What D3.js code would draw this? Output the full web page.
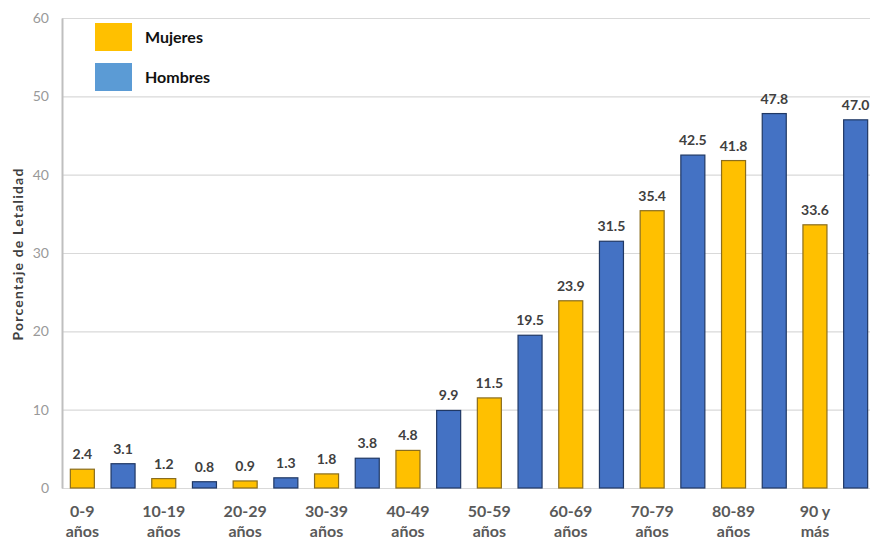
<!DOCTYPE html>
<meta charset="utf-8">
<script src="https://d3js.org/d3.v7.min.js"></script>
<style>
  body { margin: 0; background: #fff; overflow: hidden; }
  text { font-family: Lato, "Open Sans", sans-serif; }
</style>
<div id="my_dataviz"></div>
<script>

  // data
  var groups = ["0-9|años", "10-19|años", "20-29|años", "30-39|años", "40-49|años",
                "50-59|años", "60-69|años", "70-79|años", "80-89|años", "90 y|más"];
  var series = ["Mujeres", "Hombres"];
  var mujeres = [2.4, 1.2, 0.9, 1.8, 4.8, 11.5, 23.9, 35.4, 41.8, 33.6];
  var hombres = [3.1, 0.8, 1.3, 3.8, 9.9, 19.5, 31.5, 42.5, 47.8, 47.0];
  var yTicks = [0, 10, 20, 30, 40, 50, 60];

  var width = 870, height = 541;

  var svg = d3.select("#my_dataviz")
    .append("svg")
      .attr("width", width)
      .attr("height", height);

  var fills = { Mujeres: "#FFC000", Hombres: "#4472C4" };
  var strokes = { Mujeres: "#8a6d1e", Hombres: "#203864" };
  var legendFills = { Mujeres: "#FFC000", Hombres: "#5B9BD5" };

  // one band per group, two bars inside each
  var x0 = d3.scaleBand()
    .domain(groups)
    .range([62, 876]);
  var x1 = d3.scaleBand()
    .domain(series)
    .range([0, x0.bandwidth()])
    .paddingInner(0.41)
    .paddingOuter(0.205);

  var y = d3.scaleLinear()
    .domain([0, 60])
    .range([488, 18]);

  // gridlines
  svg.append("g")
    .selectAll("line")
    .data(yTicks)
    .enter()
    .append("line")
      .attr("x1", 62)
      .attr("x2", width)
      .attr("y1", function(d) { return y(d) + 0.5 })
      .attr("y2", function(d) { return y(d) + 0.5 })
      .style("stroke", "#d9d9d9")
      .style("stroke-width", 1.2);

  // Y axis
  var yAxis = svg.append("g")
    .attr("transform", "translate(62,0)")
    .call(d3.axisLeft(y).tickValues(yTicks).tickSize(0).tickPadding(13));
  yAxis.select(".domain").style("stroke", "#bfbfbf").style("stroke-width", 2);
  yAxis.selectAll("text")
    .style("font-size", "14px")
    .style("fill", "#999");

  svg.append("text")
    .attr("transform", "translate(23,254) rotate(-90)")
    .attr("text-anchor", "middle")
    .style("font-size", "14px")
    .style("letter-spacing", "1.2px")
    .style("font-weight", "bold")
    .style("fill", "#404040")
    .text("Porcentaje de Letalidad");

  // bars
  var rows = groups.map(function(g, i) {
    return { group: g, values: [
      { key: "Mujeres", value: mujeres[i] },
      { key: "Hombres", value: hombres[i] }
    ]};
  });

  var gGroup = svg.append("g")
    .selectAll("g")
    .data(rows)
    .enter()
    .append("g")
      .attr("transform", function(d) { return "translate(" + x0(d.group) + ",0)" });

  gGroup.selectAll("rect")
    .data(function(d) { return d.values })
    .enter()
    .append("rect")
      .attr("x", function(d) { return x1(d.key) })
      .attr("y", function(d) { return y(d.value) })
      .attr("width", x1.bandwidth())
      .attr("height", function(d) { return y(0) - y(d.value) })
      .style("fill", function(d) { return fills[d.key] })
      .style("stroke", function(d) { return strokes[d.key] })
      .style("stroke-width", 1.2);

  gGroup.selectAll(".val")
    .data(function(d) { return d.values })
    .enter()
    .append("text")
      .attr("class", "val")
      .attr("x", function(d) { return x1(d.key) + x1.bandwidth() / 2 })
      .attr("y", function(d) { return y(d.value) - 10 })
      .attr("text-anchor", "middle")
      .style("font-size", "14px")
      .style("font-weight", "bold")
      .style("fill", "#404040")
      .text(function(d) { return d.value.toFixed(1) });

  // group labels, centred under the Mujeres bar
  var lab = gGroup.append("text")
    .attr("text-anchor", "middle")
    .style("font-size", "16px")
    .style("font-weight", "bold")
    .style("fill", "#595959");
  lab.selectAll("tspan")
    .data(function(d) { return d.group.split("|") })
    .enter()
    .append("tspan")
      .attr("x", x1("Mujeres") + x1.bandwidth() / 2)
      .attr("y", function(d, i) { return 517 + i * 20 })
      .text(function(d) { return d });

  // legend
  var legend = svg.append("g")
    .selectAll("g")
    .data(series)
    .enter()
    .append("g")
      .attr("transform", function(d, i) { return "translate(95," + (23 + i * 40) + ")" });
  legend.append("rect")
    .attr("width", 37)
    .attr("height", 28)
    .style("fill", function(d) { return legendFills[d] });
  legend.append("text")
    .attr("x", 50)
    .attr("y", 20)
    .style("font-size", "16px")
    .style("font-weight", "bold")
    .style("fill", "#111")
    .text(function(d) { return d });

</script>
